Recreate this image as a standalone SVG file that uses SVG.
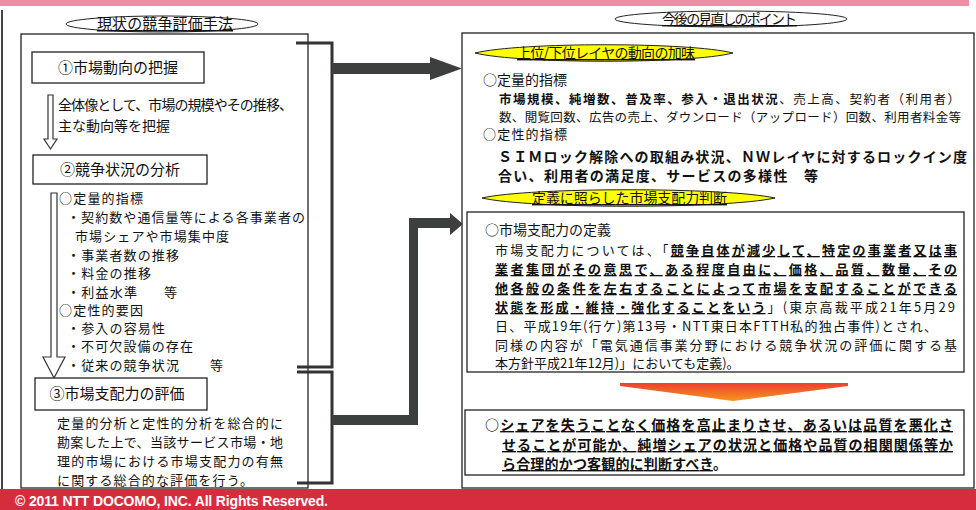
<svg xmlns="http://www.w3.org/2000/svg" width="976" height="510" viewBox="0 0 976 510">
<defs>
<style>
.jp{font-family:"Noto Sans CJK JP","Noto Sans CJK SC",sans-serif;fill:#111;}
.f12{font-size:12.5px;}
.f13{font-size:13px;}
.f14{font-size:14px;}
.f15{font-size:15px;}
.b{font-weight:bold;}
.u{text-decoration:underline;}
.box{fill:#fff;stroke:#222;stroke-width:1.3;}
.br{fill:none;stroke:#333;stroke-width:3;}
.hollow{fill:#fff;stroke:#333;stroke-width:1.2;}
.lens{fill:#ffff00;stroke:#222;stroke-width:1;}
</style>
<linearGradient id="og" x1="0" y1="0" x2="0" y2="1">
<stop offset="0" stop-color="#ee3f2d"/>
<stop offset="1" stop-color="#f7961e"/>
</linearGradient>
</defs>
<rect width="976" height="510" fill="#fff"/>
<rect x="0" y="0" width="969" height="6" fill="#ee8ea6"/>
<line x1="2" y1="10" x2="2" y2="489" stroke="#444" stroke-width="2"/>

<g id="left-panel">
<rect class="box" x="21" y="34" width="287" height="454"/>
<ellipse cx="162" cy="24" rx="96" ry="8" fill="#fff" stroke="#222" stroke-width="1"/>
<text class="jp f15 u" x="97" y="29" textLength="136">現状の競争評価手法</text>
</g>

<g id="step1">
<rect class="box" x="32" y="52" width="172" height="31"/>
<text class="jp f15" x="118" y="73" text-anchor="middle">①市場動向の把握</text>
<path class="hollow" d="M48,95 H53 V139 H57 L50.5,149 L44,139 H48 Z"/>
<text class="jp f14" x="58" y="110" textLength="235">全体像として、市場の規模やその推移、</text>
<text class="jp f14" x="58" y="131">主な動向等を把握</text>
</g>

<g id="step2">
<rect class="box" x="33" y="155" width="174" height="29"/>
<text class="jp f15" x="120" y="175" text-anchor="middle">②競争状況の分析</text>
<path class="hollow" d="M51,193 H57 V357 H65 L54,378 L43,357 H51 Z"/>
<text class="jp f13" x="59" y="203" textLength="84">○定量的指標</text>
<text class="jp f13" x="67" y="222" textLength="238">・契約数や通信量等による各事業者の</text>
<text class="jp f13" x="75" y="241" textLength="154">市場シェアや市場集中度</text>
<text class="jp f13" x="67" y="260" textLength="112">・事業者数の推移</text>
<text class="jp f13" x="67" y="278" textLength="84">・料金の推移</text>
<text class="jp f13" x="67" y="297" textLength="70">・利益水準</text>
<text class="jp f13" x="164" y="297" textLength="14">等</text>
<text class="jp f13" x="59" y="315" textLength="84">○定性的要因</text>
<text class="jp f13" x="67" y="333" textLength="98">・参入の容易性</text>
<text class="jp f13" x="67" y="351" textLength="126">・不可欠設備の存在</text>
<text class="jp f13" x="67" y="370" textLength="112">・従来の競争状況</text>
<text class="jp f13" x="210" y="370" textLength="14">等</text>
</g>

<g id="step3">
<rect class="box" x="35" y="378" width="172" height="32"/>
<text class="jp f15" x="117" y="399" text-anchor="middle">③市場支配力の評価</text>
<text class="jp f13" x="57" y="428" textLength="226">定量的分析と定性的分析を総合的に</text>
<text class="jp f13" x="57" y="447" textLength="226">勘案した上で、当該サービス市場・地</text>
<text class="jp f13" x="57" y="466" textLength="226">理的市場における市場支配力の有無</text>
<text class="jp f13" x="57" y="485" textLength="196">に関する総合的な評価を行う。</text>
</g>

<g id="right-panel">
<rect class="box" x="462" y="33" width="512" height="455"/>
<ellipse cx="731" cy="19" rx="116" ry="8" fill="#fff" stroke="#222" stroke-width="1"/>
<text class="jp f14 u" x="662" y="24" textLength="135">今後の見直しのポイント</text>
</g>

<g id="layer-trends">
<path class="lens" d="M475,53 C520,42 690,42 733,53 C690,64 520,64 475,53 Z"/>
<text class="jp f14 u" x="517" y="58" textLength="178">上位/下位レイヤの動向の加味</text>
<text class="jp f14" x="483" y="85">○定量的指標</text>
<text class="jp f12" x="499" y="104" textLength="461"><tspan class="b">市場規模、純増数、普及率、参入・退出状況</tspan>、売上高、契約者（利用者）</text>
<text class="jp f12" x="499" y="122" textLength="462">数、閲覧回数、広告の売上、ダウンロード（アップロード）回数、利用者料金等</text>
<text class="jp f13" x="483" y="139" textLength="84">○定性的指標</text>
<text class="jp f14 b" x="498" y="162" textLength="469">ＳＩＭロック解除への取組み状況、ＮＷレイヤに対するロックイン度</text>
<text class="jp f14 b" x="498" y="181" textLength="320">合い、利用者の満足度、サービスの多様性　等</text>
</g>

<g id="definition">
<path class="lens" d="M482,198 C530,187 725,187 775,198 C725,209 530,209 482,198 Z"/>
<text class="jp f14 u" x="532" y="203" textLength="195">定義に照らした市場支配力判断</text>
<rect class="box" x="467" y="212" width="497" height="160"/>
<text class="jp f14" x="485" y="235">○市場支配力の定義</text>
<text class="jp f13" x="495" y="255" textLength="462">市場支配力については、「<tspan class="b u">競争自体が減少して、特定の事業者又は事</tspan></text>
<text class="jp f13 b u" x="495" y="274" textLength="462">業者集団がその意思で、ある程度自由に、価格、品質、数量、その</text>
<text class="jp f13 b u" x="495" y="293" textLength="462">他各般の条件を左右することによって市場を支配することができる</text>
<text class="jp f13" x="495" y="312" textLength="460"><tspan class="b u">状態を形成・維持・強化することをいう</tspan>」(東京高裁平成21年5月29</text>
<text class="jp f13" x="495" y="331" textLength="442">日、平成19年(行ケ)第13号・NTT東日本FTTH私的独占事件)とされ、</text>
<text class="jp f13" x="495" y="350" textLength="462">同様の内容が「電気通信事業分野における競争状況の評価に関する基</text>
<text class="jp f13" x="495" y="368">本方針平成21年12月)」においても定義)。</text>
</g>

<g id="down-arrow">
<polygon points="620,383 848,383 848,386 733,401 620,386" fill="url(#og)"/>
</g>

<g id="conclusion">
<rect class="box" x="465" y="410" width="499" height="65" stroke-width="2"/>
<text class="jp f14 b" x="485" y="430" textLength="468">○<tspan class="u">シェアを失うことなく価格を高止まりさせ、あるいは品質を悪化さ</tspan></text>
<text class="jp f14 b u" x="502" y="450" textLength="451">せることが可能か、純増シェアの状況と価格や品質の相関関係等か</text>
<text class="jp f14 b" x="502" y="469" textLength="225"><tspan class="u">ら合理的かつ客観的に判断すべき</tspan>。</text>
</g>

<g id="connectors">
<path class="br" d="M296,43 H332 V367 H297"/>
<path class="br" d="M297,372 H332 V483 H297"/>
<polygon points="332,63 430,63 430,57 462,68.5 430,80 430,74 332,74" fill="#3b3f3d"/>
<polygon points="332,415 409,415 409,218 450,218 450,213 463,224 450,235 450,228 418,228 418,425 332,425" fill="#3b3f3d"/>
</g>

<g id="footer">
<rect x="0" y="489" width="976" height="21" fill="#d72c3d"/>
<text x="15" y="506" font-family="Liberation Sans, Arial, sans-serif" font-size="14" font-weight="bold" fill="#fff" textLength="313">© 2011 NTT DOCOMO, INC. All Rights Reserved.</text>
</g>
</svg>
